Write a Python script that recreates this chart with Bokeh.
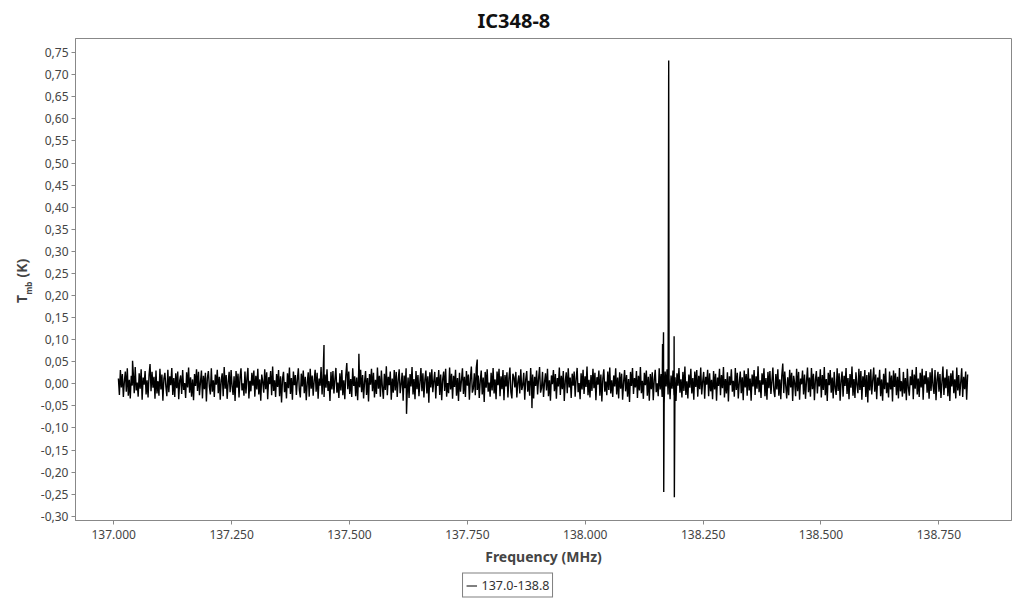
import numpy as np
from bokeh.plotting import figure
from bokeh.layouts import row, column
from bokeh.models import Range1d, FixedTicker, Legend, LegendItem
from bokeh.core.properties import value
from bokeh.embed import file_html
from bokeh.resources import INLINE

# ---- data ----
freq_start = 137.010   # MHz, first channel
freq_end = 138.811     # MHz, last channel
# baseline noise, in mK
noise_mK = [
    12, -25, 31, -8, 22, -30, 5, 28, -18, 35, -27, 9, -33, 18, -4, 26, -21, 38, -15, 3,
    -29, 24, -11, 33, -36, 14, -2, 29, -24, 8, -31, 20, 45, -17, 27, -9, 16, -34, 30, -22,
    6, -27, 34, -13, 21, -38, 11, 25, -6, -28, 32, -19, 17, -3, 36, -25, 13, -30, 24, -10,
    28, -35, 7, 19, -23, 31, -14, 2, -32, 26, -8, 37, -20, 15, -29, 10, -37, 22, -5, 33,
    -16, 27, -26, 4, 30, -33, 18, -12, 25, -40, 13, 29, -7, -24, 35, -18, 8, -30, 21, -2,
    32, -21, 16, -36, 9, 24, -28, 38, -11, 20, -34, 3, 27, -19, 31, -6, -25, 17, -39, 29,
    -9, 23, -31, 14, 35, -15, 1, -27, 28, -22, 12, 36, -33, 7, -17, 25, -4, 30, -29, 18,
    -13, 34, -24, 10, -38, 21, 5, -20, 33, -12, 26, -35, 15, -1, 29, -26, 39, -16, 8, -30,
    22, -7, 31, -28, 17, -42, 11, 27, -19, 4, -33, 24, -10, 37, -23, 13, -36, 28, -3, 20,
    -25, 9, 35, -14, -31, 23, -6, 30, -21, 16, -37, 2, 26, -29, 34, -11, 19, -27, 7, 32,
    -18, 25, -34, 12, -4, 38, -24, 15, -30, 21, -9, 33, -16, 6, -39, 27, -13, 29, -22, 10,
    36, -20, 3, -32, 24, -15, 31, -26, 8, -35, 19, 47, -12, 28, -23, 11, -30, 35, -5, 17,
    -28, 14, -37, 26, -8, 32, -19, 20, -33, 5, 29, -25, 13, -40, 22, -2, 34, -17, 25, -31,
    9, -23, 37, -11, 18, -29, 30, -7, -34, 23, -14, 40, -26, 16, -3, 28, -36, 12, -20, 31,
    -15, 27, -30, 8, 33, -21, -1, 25, -38, 19, -10, 35, -27, 14, -32, 22, -6, 38, -24, 11,
    -35, 29, -12, 20, -28, 4, 36, -17, 24, -31, 9, 30, -22, 17, -43, 26, -8, 33, -19, 6,
    27, -33, 15, -5, 31, -25, 21, -37, 10, 28, -16, 34, -29, 2, -21, 37, -13, 23, -34, 18,
    -7, 32, -27, 13, -39, 25, -18, 8, 35, -23, 16, -30, 29, -4, 21, -36, 11, 39, -20, -11,
    24, -26, 37, -14, 19, -32, 6, 30, -24, 14, -41, 27, -9, 33, -18, 3, -29, 25, -15, 36,
    -22, 10, -35, 28, -3, 34, -28, 17, -12, 31, -37, 20, -6, 26, -31, 12, 37, -19, -33, 23,
    15, -8, 27, -31, 4, 19, -22, 33, -14, -3, 25, -36, 10, 29, -18, 7, -27, 36, -11, 21,
    -33, 16, -5, 30, -24, 12, 38, -20, -9, 27, -30, 3, 24, -15, 34, -28, 8, -38, 19, -1,
    31, -17, 22, -34, 13, -6, 37, -25, 18, -12, 29, -39, 6, 26, -21, 35, -8, 14, -32, 23,
    -4, 28, -29, 11, 36, -19, 2, -35, 24, -13, 32, -23, 17, -7, 39, -26, 9, -31, 20, -16,
    34, -10, 25, -37, 15, -2, 30, -27, 21, -40, 12, 33, -18, 5, -26, 28, -14, 37, -22, 8,
    -30, 19, -6, 35, -24, 14, -33, 26, -11, 23, -36, 4, 31, -17, 20, -29, 11, -41, 27, -5,
    36, -23, 13, -8, 29, -32, 18, -15, 38, -21, 7, -34, 25, -3, 30, -27, 16, -38, 22, -12,
    26, -37, 9, 32, -19, 1, -28, 35, -13, 22, -30, 17, -45, 28, -6, 33, -24, 12, -35, 19,
    -11, 30, -26, 15, -39, 24, -4, 36, -20, 10, -31, 27, -16, 39, -25, 6, -33, 21, -9, 34,
    -22, 13, -36, 28, -7, 31, -29, 18, -12, 37, -24, 5, 27, -34, 16, -2, 32, -28, 24, -17,
    9, -35, 29, -13, 23, -38, 14, -5, 34, -26, 20, -10, 38, -31, 11, -22, 26, -40, 17, -3,
    33, -18, 7, -29, 36, -14, 25, -33, 3, 28, -21, 15, -37, 30, -8, 22, -27, 35, -15, 12,
    -38, 21, -6, 31, -25, 17, -11, 40, -19, 8, -32, 24, -2, 35, -28, 13, -36, 27, -10, 29,
    -23, 5, 37, -16, -30, 22, -13, 33, -27, 10, -35, 19, 46, -21, 28, -4, -33, 15, -26, 32,
    -8, 25, -39, 18, 2, -28, 34, -17, 27, -36, 12, -1, 30, -24, 21, -34, 6, 37, -19, 14,
    -29, 36, -12, 23, -37, 9, 29, -22, 16, -6, 33, -31, 20, -14, 38, -26, 11, -39, 25, -3,
    31, -20, 14, -33, 27, -10, -25, 35, -16, 24, -38, 7, 28, -29, 18, -5, 36, -23, 13, -35,
    22, -9, 39, -27, 11, -32, 26, -2, -21, 34, -14, 29, -36, 17, -7, 31, -30, 20, -42, 26,
    -15, 33, -24, 8, 37, -18, 21, -35, 14, -4, 32, -28, 10, -38, 23, -12, 35, -21, 3, -31,
    28, -13, 19, -40, 30, -7, 24, -26, 16, -33, 36, -17, 6, -29, 27, -22, 13, -37, 34, -9,
    -27, 17, -3, 32, -35, 21, -11, 38, -24, 12, -30, 25, -8, 34, -36, 19, -1, 29, -20, 15,
    -34, 26, -16, 35, -5, -23, 31, -37, 9, 27, -18, 22, -32, 4, 39, -25, 14, -10, 33, -28,
    18, -39, 24, -6, 30, -21, 10, -33, 37, -15, 20, -27, 3, 35, -30, 16, -12, 28, -36, 21,
]
# narrow features (MHz, K)
spike_freq = [137.040, 137.446, 137.520, 137.621, 137.771, 137.887,
              138.164, 138.166, 138.1665, 138.177, 138.1885, 138.189]
spike_val = [0.052, 0.088, 0.068, -0.068, 0.055, -0.055,
             0.090, 0.117, -0.245, 0.732, 0.108, -0.257]

x_ticks = [137.0, 137.25, 137.5, 137.75, 138.0, 138.25, 138.5, 138.75]
y_ticks = [-0.30, -0.25, -0.20, -0.15, -0.10, -0.05, 0.0, 0.05, 0.10, 0.15, 0.20,
           0.25, 0.30, 0.35, 0.40, 0.45, 0.50, 0.55, 0.60, 0.65, 0.70, 0.75]
series_name = "137.0-138.8"

# ---- build series ----
noise_x = np.linspace(freq_start, freq_end, len(noise_mK))
xs = np.concatenate([noise_x, np.array(spike_freq)])
ys = np.concatenate([np.array(noise_mK) / 1000.0, np.array(spike_val)])
order = np.argsort(xs, kind="stable")
xs, ys = xs[order], ys[order]

FONT = "Noto Sans"
TOP, BOTTOM = 37, 52
H_MAIN = 572
H_LEG = 26
W_LAB = 37
yr = Range1d(-0.3095, 0.782)

p = figure(width=978, height=H_MAIN, output_backend="svg", toolbar_location=None,
           x_range=Range1d(136.919, 138.904), y_range=yr,
           min_border_left=36, min_border_right=4, min_border_top=TOP,
           min_border_bottom=BOTTOM)
p.title.text = "IC348-8"
p.title.align = "left"
p.title.offset = 402
p.title.standoff = 9
p.title.text_font = FONT
p.title.text_font_size = "20px"
p.title.text_font_style = "bold"
p.title.text_color = "#111111"

p.grid.visible = False
p.outline_line_color = "#888888"
p.outline_line_width = 1
p.background_fill_color = "white"
p.border_fill_color = "white"

r = p.line(xs, ys, line_color="black", line_width=1.4)

p.xaxis.ticker = FixedTicker(ticks=x_ticks)
p.xaxis.major_label_overrides = {t: f"{t:.3f}" for t in x_ticks}
p.yaxis.ticker = FixedTicker(ticks=y_ticks)
p.yaxis.major_label_overrides = {t: f"{t:.2f}".replace(".", ",") for t in y_ticks}
for ax in (p.xaxis[0], p.yaxis[0]):
    ax.axis_line_color = "#888888"
    ax.major_tick_line_color = "#888888"
    ax.major_tick_in = 0
    ax.major_tick_out = 4
    ax.minor_tick_line_color = None
    ax.major_label_text_font = FONT
    ax.major_label_text_font_size = "12px"
    ax.major_label_text_color = "#444444"
p.yaxis.major_label_standoff = 3
p.xaxis.major_label_standoff = 5
p.xaxis.axis_label = "Frequency (MHz)"
p.xaxis.axis_label_text_font = FONT
p.xaxis.axis_label_text_font_size = "14px"
p.xaxis.axis_label_text_font_style = "bold"
p.xaxis.axis_label_text_color = "#444444"
p.xaxis.axis_label_standoff = 5

# ---- y axis title "T_mb (K)" in a narrow strip on the left ----
yl = figure(width=W_LAB, height=H_MAIN, output_backend="svg", toolbar_location=None,
            x_range=Range1d(0, W_LAB), y_range=yr, x_axis_location=None,
            y_axis_location=None, min_border_left=0, min_border_right=0,
            min_border_top=TOP, min_border_bottom=BOTTOM)
yl.grid.visible = False
yl.outline_line_color = None
txt_kw = dict(angle=np.pi / 2, text_align="center", text_baseline="middle",
              text_font=value(FONT), text_font_style="bold", text_color="#444444")
yl.text(x=[21.3], y=[0.192], text=["T"], text_font_size="14px", **txt_kw)
yl.text(x=[28.0], y=[0.217], text=["mb"], text_font_size="8px", **txt_kw)
yl.text(x=[21.3], y=[0.262], text=["(K)"], text_font_size="14px", **txt_kw)

# ---- legend strip below ----
lg = figure(width=W_LAB + 978, height=H_LEG, output_backend="svg",
            toolbar_location=None, x_range=Range1d(0, 1), y_range=Range1d(0, 1),
            x_axis_location=None, y_axis_location=None, min_border=0)
lg.grid.visible = False
lg.outline_line_color = None
# same series as legend proxy (falls outside this strip's ranges, so only the key shows)
lr = lg.line(xs, ys, line_color="black", line_width=1)
legend = Legend(items=[LegendItem(label=series_name, renderers=[lr])],
                location="center", orientation="horizontal",
                border_line_color="black", border_line_width=1,
                label_text_font=FONT, label_text_font_size="12.5px",
                label_text_color="#333333", glyph_width=11, glyph_height=12,
                padding=3, margin=0, spacing=4, label_standoff=5)
lg.add_layout(legend)

layout = column(row(yl, p), lg)
open("out.html", "w").write(file_html(layout, INLINE))
